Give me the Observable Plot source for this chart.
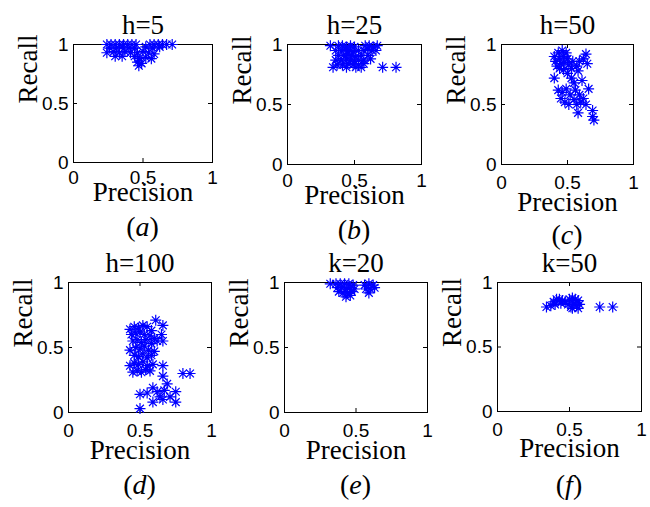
<!DOCTYPE html>
<html><head><meta charset="utf-8">
<script src="https://cdn.jsdelivr.net/npm/d3@7"></script>
<script src="https://cdn.jsdelivr.net/npm/@observablehq/plot@0.6"></script>
<style>
body{margin:0;background:#fff;}
#fig{position:relative;width:650px;height:507px;overflow:hidden;background:#fff;}
.panel{position:absolute;}
.plab{position:absolute;font-family:"Liberation Serif","DejaVu Serif","Noto Serif","Nimbus Roman","FreeSerif","Tinos","Times",serif;font-size:28px;transform:translate(-50%,-50%);white-space:nowrap;line-height:1;}
</style></head><body><div id="fig"></div>
<script>
// ---- data ----
const titles = ["h=5", "h=25", "h=50", "h=100", "k=20", "k=50"];
const panelLetters = ["a", "b", "c", "d", "e", "f"];
const xLabel = "Precision";
const yLabel = "Recall";
const tickValues = [0, 0.5, 1];

const precisionA = [0.24,0.27,0.30,0.33,0.36,0.39,0.42,0.45,0.55,0.58,0.61,0.64,0.67,0.71,
  0.26,0.31,0.35,0.40,0.44,0.52,0.57,0.62,
  0.24,0.29,0.33,0.37,0.41,0.46,0.50,0.54,0.58,
  0.30,0.35,0.44,0.47,0.52,0.56,0.46,0.49,0.47];
const recallA = [1,1,1,1,1,1,1,1,1,1,1,1,1,1,
  0.97,0.97,0.98,0.97,0.97,0.98,0.97,0.98,
  0.93,0.94,0.93,0.94,0.93,0.93,0.94,0.93,0.92,
  0.90,0.90,0.90,0.88,0.89,0.88,0.85,0.84,0.82];

const precisionB = [0.32,0.38,0.41,0.44,0.47,0.50,0.58,0.61,0.64,0.67,
  0.36,0.40,0.43,0.46,0.49,0.53,0.57,0.60,0.63,0.66,
  0.38,0.42,0.45,0.48,0.51,0.55,0.60,
  0.36,0.40,0.44,0.47,0.50,0.53,0.57,0.62,
  0.37,0.41,0.45,0.49,0.53,0.57,
  0.34,0.44,0.51,0.55,0.71,0.81];
const recallB = [0.99,0.99,0.99,0.98,0.99,0.98,0.99,0.99,0.98,0.99,
  0.95,0.95,0.96,0.95,0.94,0.95,0.95,0.96,0.95,0.95,
  0.91,0.91,0.92,0.91,0.90,0.91,0.91,
  0.87,0.87,0.88,0.87,0.86,0.87,0.87,0.88,
  0.83,0.83,0.84,0.83,0.83,0.84,
  0.81,0.81,0.81,0.81,0.81,0.81];

const precisionC = [0.40,0.43,0.46,0.49,0.41,0.44,0.47,0.50,0.42,0.45,0.48,0.51,
  0.44,0.47,0.53,0.50,0.54,0.57,0.59,0.62,0.64,0.65,0.58,0.40,
  0.53,0.55,0.61,0.66,0.56,0.59,0.62,0.43,0.46,0.49,0.52,0.45,0.48,0.51,0.55,
  0.57,0.60,0.64,0.58,0.69,0.70,0.69];
const recallC = [0.90,0.93,0.95,0.93,0.86,0.88,0.90,0.88,0.82,0.84,0.85,0.83,
  0.80,0.79,0.80,0.76,0.86,0.82,0.86,0.88,0.92,0.84,0.78,0.72,
  0.72,0.68,0.70,0.63,0.62,0.58,0.55,0.62,0.60,0.63,0.58,0.55,0.52,0.50,0.54,
  0.50,0.52,0.50,0.43,0.45,0.37,0.40];

const precisionD = [0.43,0.46,0.49,0.52,0.55,0.58,0.61,0.66,
  0.44,0.47,0.50,0.53,0.57,0.60,0.65,
  0.45,0.48,0.51,0.54,0.58,0.62,0.66,
  0.43,0.47,0.50,0.53,0.56,0.60,
  0.46,0.49,0.52,0.55,0.58,
  0.43,0.46,0.49,0.52,0.55,0.59,
  0.45,0.48,0.51,0.54,0.57,
  0.66,0.66,0.80,0.85,
  0.50,0.55,0.59,0.59,0.64,0.67,0.69,0.71,0.75,0.75,0.50,0.62,0.66];
const recallD = [0.64,0.66,0.65,0.67,0.66,0.63,0.71,0.67,
  0.60,0.61,0.62,0.60,0.59,0.57,0.60,
  0.55,0.56,0.54,0.56,0.53,0.55,0.55,
  0.48,0.50,0.49,0.51,0.48,0.47,
  0.44,0.43,0.45,0.42,0.44,
  0.36,0.38,0.37,0.39,0.36,0.37,
  0.31,0.32,0.31,0.33,0.32,
  0.36,0.28,0.30,0.30,
  0.14,0.15,0.19,0.08,0.12,0.17,0.22,0.12,0.16,0.08,0.03,0.16,0.10];

const precisionE = [0.32,0.36,0.39,0.42,0.45,0.48,0.37,0.40,0.43,0.46,0.49,
  0.38,0.41,0.44,0.47,0.43,0.46,0.56,0.59,0.62,0.57,0.60,0.63,0.59];
const recallE = [0.99,0.99,0.99,0.99,0.99,0.98,0.96,0.96,0.95,0.96,0.95,
  0.93,0.92,0.92,0.93,0.89,0.90,0.98,0.99,0.98,0.95,0.95,0.96,0.92];

const precisionF = [0.34,0.37,0.39,0.41,0.43,0.45,0.40,0.44,0.47,0.50,0.52,
  0.54,0.56,0.49,0.51,0.53,0.55,0.57,0.52,0.56,0.71,0.80];
const recallF = [0.81,0.82,0.85,0.87,0.87,0.86,0.83,0.84,0.85,0.87,0.88,
  0.87,0.86,0.83,0.81,0.84,0.82,0.83,0.80,0.80,0.81,0.81];

const precisionSeries = [precisionA, precisionB, precisionC, precisionD, precisionE, precisionF];
const recallSeries = [recallA, recallB, recallC, recallD, recallE, recallF];

// ---- layout (pixel geometry of each panel) ----
const layout = [
  {left: 73,  top: 44,  w: 139, h: 118, tickPad: 8,  precGap: 30, labGap: 65},
  {left: 287, top: 44,  w: 134, h: 120, tickPad: 9,  precGap: 31, labGap: 66},
  {left: 501, top: 44,  w: 132, h: 120, tickPad: 11, precGap: 38, labGap: 71},
  {left: 68,  top: 282, w: 143, h: 130, tickPad: 11, precGap: 38, labGap: 73},
  {left: 284, top: 282, w: 143, h: 130, tickPad: 11, precGap: 38, labGap: 73},
  {left: 497, top: 282, w: 144, h: 129, tickPad: 11, precGap: 37, labGap: 74}
];

// Matlab-like 8-spoke asterisk
const star8 = {
  draw(ctx, size) {
    const r = Math.sqrt(size / Math.PI), d = r * Math.SQRT1_2;
    ctx.moveTo(-r, 0); ctx.lineTo(r, 0);
    ctx.moveTo(0, -r); ctx.lineTo(0, r);
    ctx.moveTo(-d, -d); ctx.lineTo(d, d);
    ctx.moveTo(-d, d); ctx.lineTo(d, -d);
  }
};

const fig = document.getElementById("fig");
const ML = 80, MR = 20, MT = 45, MB = 90;
const serif = "'Liberation Serif', 'DejaVu Serif', 'Noto Serif', 'Nimbus Roman', FreeSerif, Tinos, Times, serif";
const sans = "'Liberation Sans', Arial, sans-serif";

layout.forEach((L, i) => {
  const data = precisionSeries[i].map((p, j) => ({p, r: recallSeries[i][j]}));
  const chart = Plot.plot({
    width: L.w + ML + MR,
    height: L.h + MT + MB,
    marginLeft: ML, marginRight: MR, marginTop: MT, marginBottom: MB,
    style: {background: "transparent", overflow: "visible"},
    x: {domain: [0, 1], label: null},
    y: {domain: [0, 1], label: null},
    marks: [
      Plot.frame({stroke: "black", strokeWidth: 1}),
      Plot.tickX(tickValues, {x: d => d, insetTop: L.h - 4, stroke: "black"}),
      Plot.tickX(tickValues, {x: d => d, insetBottom: L.h - 4, stroke: "black"}),
      Plot.tickY(tickValues, {y: d => d, insetRight: L.w - 4, stroke: "black"}),
      Plot.tickY(tickValues, {y: d => d, insetLeft: L.w - 4, stroke: "black"}),
      Plot.axisX({anchor: "bottom", ticks: tickValues, tickSize: 0, tickPadding: L.tickPad,
        fontSize: 19, fontFamily: sans, fill: "black", label: null, tickFormat: d => String(d)}),
      Plot.axisY({anchor: "left", ticks: tickValues, tickSize: 0, tickPadding: 5,
        fontSize: 19, fontFamily: sans, fill: "black", label: null, tickFormat: d => String(d)}),
      Plot.dot(data, {x: "p", y: "r", symbol: star8, r: 5.5, stroke: "#0000ff", strokeWidth: 1.2, fill: "none"}),
      Plot.text([titles[i]], {frameAnchor: "top", dy: -19, fontSize: 27, fontFamily: serif, fill: "black", lineAnchor: "middle"}),
      Plot.text([xLabel], {frameAnchor: "bottom", dy: L.precGap, fontSize: 27, fontFamily: serif, fill: "black", lineAnchor: "middle", letterSpacing: 1}),
      Plot.text([yLabel], {frameAnchor: "left", dx: -45, rotate: -90, fontSize: 27, fontFamily: serif, fill: "black", lineAnchor: "middle", letterSpacing: 1})
    ]
  });
  const div = document.createElement("div");
  div.className = "panel";
  div.style.left = (L.left - ML) + "px";
  div.style.top = (L.top - MT) + "px";
  div.style.width = (L.w + ML + MR) + "px";
  div.appendChild(chart);
  fig.appendChild(div);

  const lab = document.createElement("div");
  lab.className = "plab";
  lab.style.left = (L.left + L.w / 2) + "px";
  lab.style.top = (L.top + L.h + L.labGap) + "px";
  lab.innerHTML = "(<i>" + panelLetters[i] + "</i>)";
  fig.appendChild(lab);
});
</script>
</body></html>
